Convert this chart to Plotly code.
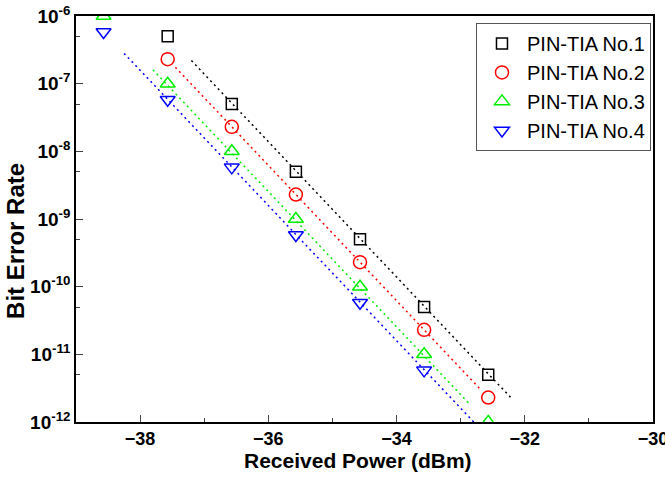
import plotly.graph_objects as go

power = [-38.57, -37.57, -36.57, -35.57, -34.57, -33.57, -32.57]
ber_no1 = [None, 5e-7, 5e-8, 5e-9, 5e-10, 5e-11, 5e-12]
ber_no2 = [None, 2.3e-7, 2.3e-8, 2.3e-9, 2.3e-10, 2.3e-11, 2.3e-12]
ber_no3 = [1e-6, 1e-7, 1e-8, 1e-9, 1e-10, 1e-11, 1e-12]
ber_no4 = [5.8e-7, 5.8e-8, 5.8e-9, 5.8e-10, 5.8e-11, 5.8e-12, None]

fit1_x = [-37.2, -32.2]
fit1_y = [2.2e-7, 2.2e-12]
fit2_x = [-37.45, -32.7]
fit2_y = [1.75e-7, 3.1e-12]
fit3_x = [-37.8, -32.85]
fit3_y = [1.6e-7, 1.8e-12]
fit4_x = [-38.25, -32.75]
fit4_y = [2.8e-7, 9.0e-13]

names = ["PIN-TIA No.1", "PIN-TIA No.2", "PIN-TIA No.3", "PIN-TIA No.4"]
colors = ["#000000", "#ff0000", "#00ee00", "#0000ff"]
symbols = ["square-open", "circle-open", "triangle-up-open", "triangle-down-open"]
sizes = [11, 13, 13, 13]

ytick_vals = [1e-12, 1e-11, 1e-10, 1e-9, 1e-8, 1e-7, 1e-6]
ytick_exp = ["-12", "-11", "-10", "-9", "-8", "-7", "-6"]
yminor_vals = [5e-12, 5e-11, 5e-10, 5e-9, 5e-8, 5e-7]

FONT = "Liberation Sans, Arial, sans-serif"

fig = go.Figure()
fits = [(fit1_x, fit1_y), (fit2_x, fit2_y), (fit3_x, fit3_y), (fit4_x, fit4_y)]
for (fx, fy), c in zip(fits, colors):
    fig.add_trace(go.Scatter(x=fx, y=fy, mode="lines", showlegend=False,
                             line=dict(color=c, width=1.5, dash="2px,3.5px")))

for yv, n, c, s, sz in zip([ber_no1, ber_no2, ber_no3, ber_no4], names, colors, symbols, sizes):
    fig.add_trace(go.Scatter(x=power, y=yv, mode="markers", name=n,
                             marker=dict(symbol=s, size=sz, color=c, line=dict(color=c, width=1.5))))

fig.update_layout(
    width=665, height=477,
    margin=dict(l=76, r=12, t=16, b=55),
    paper_bgcolor="white", plot_bgcolor="white",
    font=dict(family=FONT, color="black"),
    legend=dict(x=0.9965, xanchor="right", y=0.983, yanchor="top",
                bordercolor="#555555", borderwidth=1, bgcolor="white",
                font=dict(size=20), itemwidth=40, tracegroupgap=0),
    xaxis=dict(range=[-39, -30], tick0=-38, dtick=2, ticks="inside", ticklen=7,
               tickwidth=1.2, showline=True, linecolor="black", linewidth=1.5, mirror=True,
               showgrid=False, zeroline=False, automargin=False, ticklabeloverflow="allow",
               tickfont=dict(size=18, family=FONT),
               tickprefix="<b>", ticksuffix="</b>",
               minor=dict(dtick=1, tick0=-39, ticks="inside", ticklen=4, tickwidth=1.2)),
    yaxis=dict(type="log", range=[-12, -6], tickvals=ytick_vals,
               ticktext=["<b>10<sup>" + e + "</sup></b>" for e in ytick_exp],
               ticks="inside", ticklen=7, tickwidth=1.2,
               showline=True, linecolor="black", linewidth=1.5, mirror=True,
               showgrid=False, zeroline=False, automargin=False, ticklabeloverflow="allow",
               tickfont=dict(size=19),
               minor=dict(tickvals=yminor_vals, ticks="inside", ticklen=4, tickwidth=1.2)),
    annotations=[
        dict(text="<b>Received Power (dBm)</b>", xref="paper", yref="paper",
             x=0.4887, y=-0.096, xanchor="center", yanchor="middle", showarrow=False,
             font=dict(size=21, family=FONT)),
        dict(text="<b>Bit Error Rate</b>", xref="paper", yref="paper",
             x=-0.104, y=0.446, xanchor="center", yanchor="middle", showarrow=False,
             textangle=-90, font=dict(size=24, family=FONT)),
    ],
)

fig.write_html("out.html", config={"displayModeBar": False},
               post_script="document.body.style.margin='0';document.body.style.padding='0';")
